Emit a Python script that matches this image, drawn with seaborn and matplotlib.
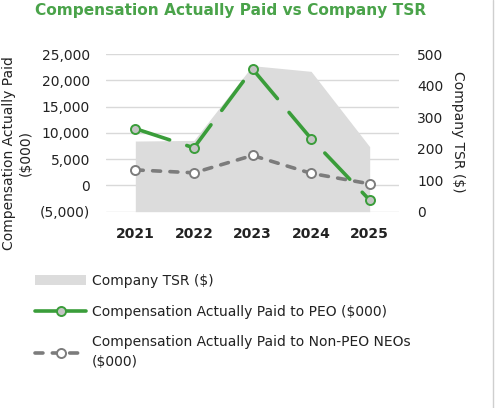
import numpy as np
import pandas as pd
import matplotlib
matplotlib.use("Agg")
import matplotlib.pyplot as plt
import seaborn as sns
from matplotlib.lines import Line2D
from matplotlib.patches import Patch

# values
years = [2021, 2022, 2023, 2024, 2025]
tsr = [224, 226, 463, 445, 206]
cap_peo = [10800, 7150, 22150, 8900, -2800]
cap_neo = [2950, 2400, 5700, 2300, 300]

left_ticks = [-5000, 0, 5000, 10000, 15000, 20000, 25000]
left_labels = ["(5,000)", "0", "5,000", "10,000", "15,000", "20,000", "25,000"]
right_ticks = [0, 100, 200, 300, 400, 500]

green = "#3a9d3a"
grey = "#7c7c7c"
area_col = "#dcdcdc"
txt = "#222222"

sns.set_style("white")
plt.rcParams["font.family"] = ["DejaVu Sans"]

df = pd.DataFrame({"year": years, "tsr": tsr, "peo": cap_peo, "neo": cap_neo})

fig = plt.figure(figsize=(4.96, 4.08), dpi=100)
ax = fig.add_axes([106 / 496, 1 - 211.7 / 408, 293 / 496, 157.7 / 408])
ax2 = ax.twinx()

ax.set_xlim(2020.5, 2025.5)
ax.set_ylim(-5000, 25000)
ax2.set_ylim(0, 500)

# TSR area lives on the right scale but is drawn in the main axes so the grid stays behind it
ax.fill_between(df["year"], df["tsr"], 0, color=area_col, lw=0, zorder=1,
                transform=ax2.transData)

grey_dash = (0, (2.2, 2.6))
green_dash = (0, (10, 5))

sns.lineplot(data=df, x="year", y="neo", ax=ax, color=grey, lw=2.6,
             linestyle=grey_dash, dash_capstyle="round",
             marker="o", markersize=6.5, markerfacecolor="white",
             markeredgecolor=grey, markeredgewidth=1.4, zorder=3)
sns.lineplot(data=df, x="year", y="peo", ax=ax, color=green, lw=2.6,
             linestyle=green_dash, dash_capstyle="round",
             marker="o", markersize=6.5, markerfacecolor="#c4c4c4",
             markeredgecolor=green, markeredgewidth=1.4, zorder=4)

ax.set_yticks(left_ticks)
ax.set_yticklabels(left_labels)
ax.set_xticks(years)
ax.set_xticklabels([str(y) for y in years], fontweight="bold")
ax2.set_yticks(right_ticks)

ax.grid(axis="y", color="#d9d9d9", lw=1.0, zorder=0.5)
ax.set_axisbelow(True)
ax.set_xlabel("")
ax.set_ylabel("")
for a in (ax, ax2):
    for s in a.spines.values():
        s.set_visible(False)
ax.tick_params(axis="y", length=0, pad=11.5, labelsize=10, labelcolor=txt)
ax.tick_params(axis="x", length=0, pad=11, labelsize=10, labelcolor=txt)
ax2.tick_params(axis="y", length=0, pad=13, labelsize=10, labelcolor=txt)

fig.text(17 / 496, 1 - 153 / 408, "Compensation Actually Paid\n($000)", rotation=90,
         ha="center", va="center", fontsize=10, color=txt, linespacing=1.25)
fig.text(458 / 496, 1 - 132 / 408, "Company TSR ($)", rotation=270,
         ha="center", va="center", fontsize=10, color=txt)
fig.text(35 / 496, 1 - 11 / 408, "Compensation Actually Paid vs Company TSR",
         ha="left", va="center", fontsize=11.1, fontweight="bold", color="#4aa34a")

handles = [
    Patch(facecolor=area_col, edgecolor="none"),
    Line2D([], [], color=green, lw=2.6, marker="o", markersize=6.5,
           markerfacecolor="#c4c4c4", markeredgecolor=green, markeredgewidth=1.4),
    Line2D([], [], color=grey, lw=2.6, linestyle=grey_dash, dash_capstyle="round",
           marker="o", markersize=6.5, markerfacecolor="white",
           markeredgecolor=grey, markeredgewidth=1.4),
]
labels = ["Company TSR ($)", "Compensation Actually Paid to PEO ($000)",
          "Compensation Actually Paid to Non-PEO NEOs\n($000)"]
leg = fig.legend(handles, labels, loc="upper left", bbox_to_anchor=(35 / 496, 1 - 274 / 408),
                 frameon=False, borderaxespad=0, borderpad=0, fontsize=10,
                 handlelength=3.7, handletextpad=0.4, labelspacing=1.2,
                 labelcolor=txt)
for t in leg.get_texts():
    t.set_linespacing(1.5)

fig.add_artist(Line2D([0.994, 0.994], [0, 1], transform=fig.transFigure,
                      color="#cfcfcf", lw=1))

fig.savefig("out.png", dpi=100)
